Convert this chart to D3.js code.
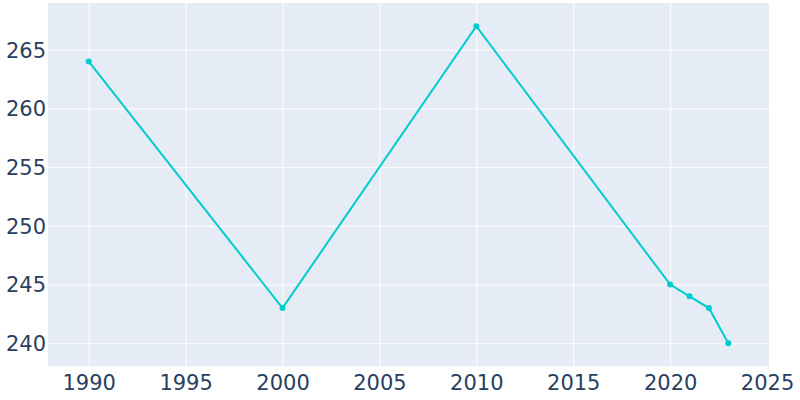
<!DOCTYPE html>
<html><head><meta charset="utf-8">
<script src="https://cdn.jsdelivr.net/npm/d3@7"></script>
<style>body{margin:0;background:#fff}svg{display:block}</style>
</head><body>
<svg id="c" width="800" height="400"></svg>
<script>
const years = [1990, 2000, 2010, 2020, 2021, 2022, 2023];
const population = [264, 243, 267, 245, 244, 243, 240];
const xTicks = [1990, 1995, 2000, 2005, 2010, 2015, 2020, 2025];
const yTicks = [240, 245, 250, 255, 260, 265];

const svg = d3.select("#c");
const L = 48, R = 769, T = 3, B = 366.5;
const x = d3.scaleLinear().domain([1987.9, 2025.1]).range([L, R]);
const y = d3.scaleLinear().domain([238.02, 268.98]).range([B, T]);

svg.append("rect").attr("x", L).attr("y", T).attr("width", R - L).attr("height", B - T).attr("fill", "#e5ecf6");

const font = "'DejaVu Sans', sans-serif";
const gx = svg.append("g").attr("transform", `translate(0,${B})`)
  .call(d3.axisBottom(x).tickValues(xTicks).tickFormat(d3.format("d")).tickSize(-(B - T)).tickPadding(9));
gx.select(".domain").remove();
gx.selectAll("line").attr("stroke", "#fff").attr("stroke-width", 1)
  .attr("opacity", d => d === 2025 ? 0 : 1);
gx.selectAll("text").attr("fill", "#2a3f5f").style("font-family", font).style("font-size", "21px");

const gy = svg.append("g").attr("transform", `translate(${L},0)`)
  .call(d3.axisLeft(y).tickValues(yTicks).tickSize(-(R - L)).tickPadding(2));
gy.select(".domain").remove();
gy.selectAll("line").attr("stroke", "#fff").attr("stroke-width", 1);
gy.selectAll("text").attr("fill", "#2a3f5f").style("font-family", font).style("font-size", "21px").attr("dy", "0.35em");

const pts = years.map((d, i) => [d, population[i]]);
svg.append("path").datum(pts)
  .attr("d", d3.line().x(d => x(d[0])).y(d => y(d[1])))
  .attr("fill", "none").attr("stroke", "#00cccc").attr("stroke-width", 2);
svg.selectAll("circle.p").data(pts).join("circle")
  .attr("cx", d => x(d[0])).attr("cy", d => y(d[1])).attr("r", 3).attr("fill", "#00cccc");
</script>
</body></html>
